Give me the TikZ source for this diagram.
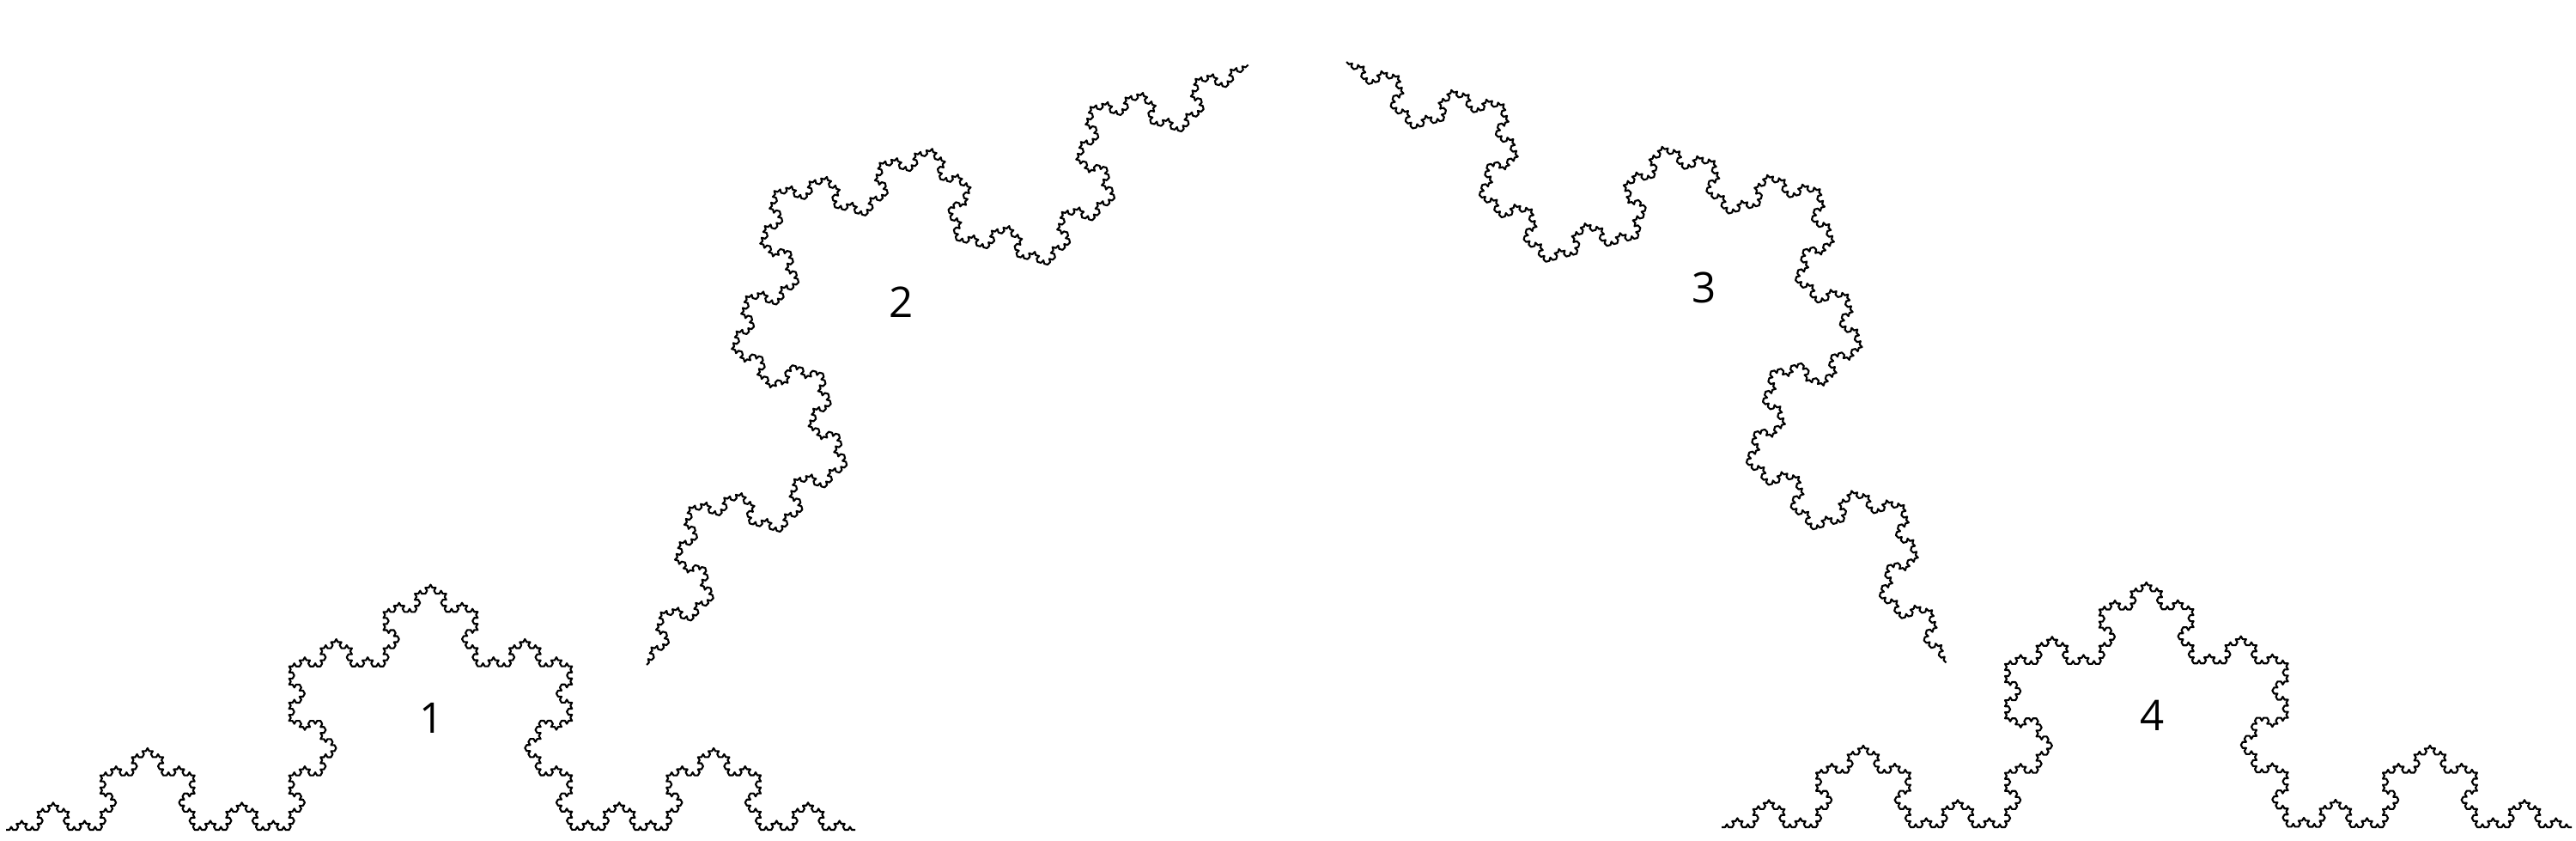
\documentclass[tikz,border=0pt]{standalone}
\usepackage{fontspec}
\setmainfont{Open Sans}
\usepackage{tikz}
\usetikzlibrary{
  decorations.fractals,
  positioning
}
\tikzset{
  kochline/.style={
    draw=black, line width=0.6pt, line join=round,
    decoration=Koch snowflake
  },
  partlabel/.style={
    font=\fontsize{14}{16}\selectfont, inner sep=0pt
  }
}

\begin{document}
\begin{tikzpicture}
    \useasboundingbox (0,0) rectangle (30,9.78);

    % End points of the four parts
    \coordinate (onestart) at (0.07,0.12);
    \coordinate (oneend) at (9.96,0.12);
    \coordinate (twostart) at (7.53,2.04);
    \coordinate (twoend) at (14.54,9.03);
    \coordinate (threestart) at (15.68,9.06);
    \coordinate (threeend) at (22.67,2.06);
    \coordinate (fourstart) at (20.05,0.15);
    \coordinate (fourend) at (29.95,0.15);

    % Koch parts
    \draw[kochline] decorate{decorate{decorate{decorate{decorate{(onestart) -- (oneend)}}}}};
    \draw[kochline] decorate{decorate{decorate{decorate{decorate{(twostart) -- (twoend)}}}}};
    \draw[kochline] decorate{decorate{decorate{decorate{decorate{(threestart) -- (threeend)}}}}};
    \draw[kochline] decorate{decorate{decorate{decorate{decorate{(fourstart) -- (fourend)}}}}};

    % Labels
    \node[partlabel] (labelone) at (5.03,1.42) {1};
    \node[partlabel] (labeltwo) at (10.50,6.26) {2};
    \node[partlabel] (labelthree) at (19.85,6.43) {3};
    \node[partlabel] (labelfour) at (25.07,1.45) {4};

  \end{tikzpicture}
\end{document}
